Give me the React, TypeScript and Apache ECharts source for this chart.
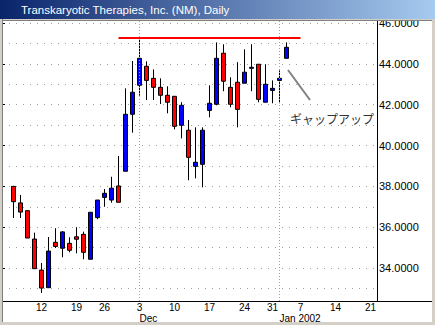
import { useEffect, useRef } from 'react';
import * as echarts from 'echarts';

// Trading-day axis (first slot and the trailing January days are empty)
const axisDates = [
  '2001-11-05', '2001-11-06', '2001-11-07', '2001-11-08', '2001-11-09',
  '2001-11-12', '2001-11-13', '2001-11-14', '2001-11-15', '2001-11-16',
  '2001-11-19', '2001-11-20', '2001-11-21', '2001-11-23',
  '2001-11-26', '2001-11-27', '2001-11-28', '2001-11-29', '2001-11-30',
  '2001-12-03', '2001-12-04', '2001-12-05', '2001-12-06', '2001-12-07',
  '2001-12-10', '2001-12-11', '2001-12-12', '2001-12-13', '2001-12-14',
  '2001-12-17', '2001-12-18', '2001-12-19', '2001-12-20', '2001-12-21',
  '2001-12-24', '2001-12-26', '2001-12-27', '2001-12-28', '2001-12-31',
  '2002-01-02', '2002-01-03', '2002-01-04',
  '2002-01-07', '2002-01-08', '2002-01-09', '2002-01-10', '2002-01-11',
  '2002-01-14', '2002-01-15', '2002-01-16', '2002-01-17', '2002-01-18',
  '2002-01-21',
];

// Prices from 2001-11-06 to 2002-01-03
const opens = [
  38.0, 37.19, 36.81, 35.42, 33.9, 33.04, 35.26, 34.97, 35.21, 35.53,
  35.65, 34.43, 36.47, 37.46, 37.33, 38.02, 38.74, 41.53, 42.95, 43.88,
  43.29, 42.85, 42.46, 42.41, 40.99, 40.75, 38.98, 39.08, 41.72, 42.02,
  44.52, 42.85, 43.1, 43.05, 43.78, 43.98, 42.12, 42.7, 43.19, 44.27,
];
const highs = [
  38.02, 37.58, 36.83, 35.73, 34.25, 35.52, 35.95, 35.81, 35.51, 36.0,
  35.78, 36.73, 37.33, 37.87, 38.47, 39.49, 42.8, 44.14, 45.27, 44.12,
  43.73, 43.29, 42.9, 42.41, 42.12, 41.25, 40.89, 40.89, 42.95, 45.05,
  44.96, 43.34, 44.08, 44.71, 44.96, 43.98, 43.98, 43.19, 43.68, 45.05,
];
const lows = [
  36.45, 36.45, 35.47, 33.95, 32.78, 33.02, 34.98, 34.53, 34.77, 34.72,
  34.43, 34.43, 36.39, 37.0, 37.2, 37.22, 38.74, 40.63, 42.44, 42.23,
  42.23, 42.03, 41.58, 40.79, 40.35, 38.3, 38.39, 37.95, 41.38, 41.97,
  42.66, 41.87, 40.89, 43.05, 42.66, 42.12, 42.12, 42.07, 42.07, 44.27,
];
const closes = [
  37.25, 36.74, 35.47, 33.97, 33.02, 34.83, 35.06, 35.77, 34.87, 35.41,
  34.77, 36.73, 37.33, 37.66, 37.91, 37.22, 41.53, 42.61, 44.27, 43.19,
  42.85, 42.46, 42.12, 40.94, 41.97, 39.42, 39.18, 40.75, 42.07, 44.27,
  43.15, 42.02, 41.77, 43.59, 43.83, 42.26, 43.0, 42.8, 43.29, 44.81,
];

const weekTickDates = [
  '2001-11-12', '2001-11-19', '2001-11-26', '2001-12-03', '2001-12-10',
  '2001-12-17', '2001-12-24', '2001-12-31', '2002-01-07', '2002-01-14', '2002-01-21',
];
const monthTickDates = ['2001-12-03', '2002-01-02'];
const monthTickLabels = ['Dec', 'Jan 2002'];

const resistanceLevel = 45.3;
const resistanceSpan = ['2001-11-28', '2002-01-07'];

const titleText = 'Transkaryotic Therapies, Inc. (NM), Daily';
const annotationText = 'ギャップアップ';

const K = 20.42; // px per price unit
const Y46 = 23; // pixel row of the 46 level
const FONT = 'Liberation Sans';

function button(x: number, y: number, w: number, h: number, children: any[] = []) {
  return {
    type: 'group',
    z: 110,
    children: [
      { type: 'rect', shape: { x, y, width: w, height: h }, style: { fill: '#d4d0c8' } },
      { type: 'polyline', shape: { points: [[x + 0.5, y + h - 1], [x + 0.5, y + 0.5], [x + w - 1, y + 0.5]] }, style: { stroke: '#ffffff', fill: null, lineWidth: 1 } },
      { type: 'polyline', shape: { points: [[x, y + h - 0.5], [x + w - 0.5, y + h - 0.5], [x + w - 0.5, y]] }, style: { stroke: '#404040', fill: null, lineWidth: 1 } },
      { type: 'polyline', shape: { points: [[x + 1, y + h - 1.5], [x + w - 1.5, y + h - 1.5], [x + w - 1.5, y + 1]] }, style: { stroke: '#808080', fill: null, lineWidth: 1 } },
      ...children,
    ],
  };
}

export default function App() {
  const ref = useRef<HTMLDivElement>(null);

  useEffect(() => {
    document.body.style.margin = '0';
    const chart = echarts.init(ref.current!, null, { renderer: 'svg' });

    const priceDates = axisDates.slice(1, 1 + opens.length);
    const candleData = axisDates.map((d) => {
      const i = priceDates.indexOf(d);
      return i < 0 ? '-' : [opens[i], closes[i], lows[i], highs[i]];
    });

    const yMinA = 46 - (301 - Y46) / K;
    const yMaxA = 46 + (Y46 - 20) / K;

    const dotted = { color: '#a0a0a0', width: 1, type: [1, 2] as any };

    const option: any = {
      animation: false,
      backgroundColor: '#ffffff',
      grid: [
        { left: 3, top: 20, width: 371, height: 281 },
        { left: 3, top: Y46, width: 374, height: 12 * K },
        { left: 3, top: Y46, width: 374, height: 13 * K },
      ],
      xAxis: [
        {
          gridIndex: 0,
          type: 'category',
          data: axisDates,
          boundaryGap: true,
          axisLine: { show: true, lineStyle: { color: '#000', width: 1 } },
          axisTick: { show: false },
          splitLine: { show: false },
          axisLabel: {
            interval: (_i: number, v: string) => weekTickDates.includes(v),
            formatter: (v: string) => String(Number(v.slice(8))),
            fontFamily: FONT,
            fontSize: 10,
            lineHeight: 10,
            color: '#000',
            margin: 1.5,
          },
        },
        {
          gridIndex: 0,
          type: 'category',
          data: axisDates,
          position: 'bottom',
          offset: 9,
          axisLine: { show: false },
          axisTick: { show: false },
          splitLine: { show: false },
          axisLabel: {
            interval: (_i: number, v: string) => monthTickDates.includes(v),
            formatter: (v: string) => monthTickLabels[monthTickDates.indexOf(v)] ?? '',
            align: 'left',
            fontFamily: FONT,
            fontSize: 10,
            lineHeight: 10,
            color: '#000',
            margin: 3,
          },
        },
        { gridIndex: 1, type: 'value', min: 0, max: 1, show: false },
        { gridIndex: 2, type: 'value', min: 0, max: 1, show: false },
      ],
      yAxis: [
        {
          gridIndex: 0,
          type: 'value',
          min: yMinA,
          max: yMaxA,
          position: 'right',
          offset: 3,
          axisLine: { show: true, lineStyle: { color: '#000', width: 1 } },
          axisTick: { show: false },
          axisLabel: { show: false },
          splitLine: { show: false },
        },
        {
          gridIndex: 1,
          type: 'value',
          min: 34,
          max: 46,
          interval: 2,
          position: 'right',
          axisLine: { show: false },
          axisTick: { show: true, length: 2, inside: false, lineStyle: { color: '#000' } },
          axisLabel: {
            formatter: (v: number) => v.toFixed(4),
            fontFamily: FONT,
            fontSize: 11,
            color: '#000',
            margin: 2,
          },
          splitLine: { show: false },
        },
        {
          gridIndex: 2,
          type: 'value',
          min: 33,
          max: 46,
          interval: 1,
          position: 'right',
          axisLine: { show: false },
          axisTick: { show: false },
          axisLabel: { show: false },
          splitLine: { show: true, lineStyle: { color: '#a0a0a0', width: 1, type: [1, 6], dashOffset: 1 } },
        },
      ],
      series: [
        {
          type: 'candlestick',
          xAxisIndex: 0,
          yAxisIndex: 0,
          data: candleData,
          barWidth: 4,
          itemStyle: {
            color: '#0000ff',
            color0: '#ff0000',
            borderColor: '#000000',
            borderColor0: '#000000',
            borderWidth: 1,
          },
          markLine: {
            silent: true,
            symbol: ['none', 'none'],
            label: { show: false },
            animation: false,
            data: [
              { xAxis: axisDates.indexOf(monthTickDates[0]), lineStyle: dotted },
              { xAxis: axisDates.indexOf(monthTickDates[1]), lineStyle: dotted },
              [
                { coord: [axisDates.indexOf(resistanceSpan[0]), resistanceLevel], lineStyle: { color: '#ff0000', width: 2, type: 'solid' } },
                { coord: [axisDates.indexOf(resistanceSpan[1]), resistanceLevel] },
              ],
            ],
          },
        },
      ],
      graphic: [
        // x axis line extension into the label column
        { type: 'line', z: 50, shape: { x1: 374, y1: 301.5, x2: 432, y2: 301.5 }, style: { stroke: '#000', lineWidth: 1 } },
        // annotation
        { type: 'line', z: 50, shape: { x1: 288, y1: 70, x2: 310, y2: 100 }, style: { stroke: '#808080', lineWidth: 2 } },
        {
          type: 'text', z: 50,
          style: { text: annotationText, x: 290, y: 118, fill: '#333333', fontSize: 12, fontFamily: 'Noto Sans CJK JP', verticalAlign: 'middle', align: 'left' },
        },
        // window frame
        { type: 'rect', z: 100, shape: { x: 0, y: 0, width: 3, height: 325 }, style: { fill: '#d4d0c8' } },
        { type: 'line', z: 101, shape: { x1: 2.5, y1: 19, x2: 2.5, y2: 322 }, style: { stroke: '#808080', lineWidth: 1 } },
        { type: 'rect', z: 100, shape: { x: 432, y: 0, width: 3, height: 325 }, style: { fill: '#d4d0c8' } },
        { type: 'rect', z: 100, shape: { x: 0, y: 322, width: 435, height: 3 }, style: { fill: '#d4d0c8' } },
        { type: 'rect', z: 100, shape: { x: 0, y: 19, width: 435, height: 1.5 }, style: { fill: '#d4d0c8' } },
        { type: 'line', z: 101, shape: { x1: 2, y1: 20.5, x2: 432, y2: 20.5 }, style: { stroke: '#808080', lineWidth: 1 } },
        // title bar
        {
          type: 'rect', z: 100,
          shape: { x: 0, y: 0, width: 435, height: 19 },
          style: {
            fill: new echarts.graphic.LinearGradient(0, 0, 1, 0, [
              { offset: 0, color: '#0a246a' },
              { offset: 1, color: '#a6caf0' },
            ]),
          },
        },
        // icon
        {
          type: 'group', z: 105,
          children: [
            { type: 'rect', shape: { x: 2.5, y: 1.5, width: 15, height: 15 }, style: { fill: '#ffffff', stroke: '#000000', lineWidth: 1 } },
            { type: 'rect', shape: { x: 4, y: 3, width: 12, height: 12 }, style: { fill: '#000000' } },
            { type: 'line', shape: { x1: 6.5, y1: 7, x2: 6.5, y2: 14 }, style: { stroke: '#ffffff', lineWidth: 1 } },
            { type: 'line', shape: { x1: 9.5, y1: 5, x2: 9.5, y2: 12 }, style: { stroke: '#ffffff', lineWidth: 1 } },
            { type: 'line', shape: { x1: 12.5, y1: 4, x2: 12.5, y2: 10 }, style: { stroke: '#ffffff', lineWidth: 1 } },
            { type: 'line', shape: { x1: 5, y1: 9.5, x2: 8, y2: 9.5 }, style: { stroke: '#ffffff', lineWidth: 1 } },
            { type: 'line', shape: { x1: 11, y1: 7.5, x2: 14, y2: 7.5 }, style: { stroke: '#ffffff', lineWidth: 1 } },
          ],
        },
        {
          type: 'text', z: 105,
          style: { text: titleText, x: 21, y: 10, fill: '#ffffff', fontSize: 11.5, fontFamily: FONT, verticalAlign: 'middle', align: 'left' },
        },
        button(311, 2, 34, 15, [
          { type: 'rect', shape: { x: 315.5, y: 5.5, width: 7, height: 7 }, style: { fill: '#d4d0c8', stroke: '#404040', lineWidth: 1 } },
          { type: 'text', style: { text: 'Sym', x: 323, y: 10, fill: '#000', fontSize: 12, fontFamily: FONT, verticalAlign: 'middle' } },
        ]),
        button(345, 2, 34, 15, [
          { type: 'rect', shape: { x: 349.5, y: 5.5, width: 7, height: 7 }, style: { fill: '#d4d0c8', stroke: '#808080', lineWidth: 1 } },
          { type: 'text', style: { text: 'Intv', x: 358, y: 11, fill: '#ffffff', fontSize: 12, fontFamily: FONT, verticalAlign: 'middle' } },
          { type: 'text', style: { text: 'Intv', x: 357, y: 10, fill: '#808080', fontSize: 12, fontFamily: FONT, verticalAlign: 'middle' } },
        ]),
        button(382, 2, 15, 15, [
          { type: 'rect', shape: { x: 386, y: 11, width: 6, height: 2 }, style: { fill: '#000' } },
        ]),
        button(397, 2, 15, 15, [
          { type: 'rect', shape: { x: 400.5, y: 4.5, width: 8, height: 8 }, style: { fill: null, stroke: '#000', lineWidth: 1 } },
          { type: 'line', shape: { x1: 400, y1: 5.5, x2: 409, y2: 5.5 }, style: { stroke: '#000', lineWidth: 1 } },
        ]),
        button(416, 2, 15, 15, [
          { type: 'line', shape: { x1: 420, y1: 5, x2: 427, y2: 12 }, style: { stroke: '#000', lineWidth: 1.6 } },
          { type: 'line', shape: { x1: 427, y1: 5, x2: 420, y2: 12 }, style: { stroke: '#000', lineWidth: 1.6 } },
        ]),
      ],
    };

    chart.setOption(option);
    return () => chart.dispose();
  }, []);

  return <div ref={ref} style={{ position: 'absolute', left: 0, top: 0, width: 435, height: 325 }} />;
}
